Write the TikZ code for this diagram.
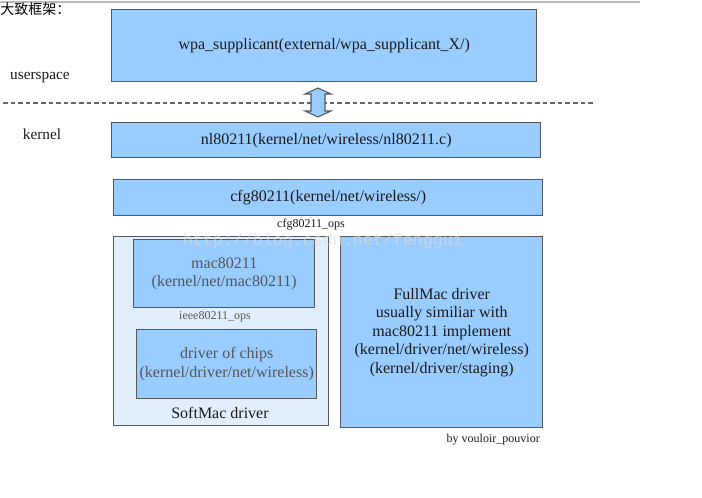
\documentclass[tikz,border=0pt]{standalone}
\usepackage{fontspec}
\setmainfont{Liberation Serif}
\newfontfamily\cjk{Noto Sans CJK SC}
\newfontfamily\wmfont{Liberation Mono}
\begin{document}
\begin{tikzpicture}[x=0.75pt,y=-0.75pt,
  box/.style={draw=boxline, line width=1.1pt, fill=boxblue, inner sep=0pt, anchor=north west, align=center, text=txt, font=\fontsize{12}{14}\selectfont},
  innerbox/.style={box, text=graytxt},
  lbl/.style={inner sep=0pt, text=txt, font=\fontsize{9}{10}\selectfont}]
\definecolor{boxblue}{HTML}{99CCFF}
\definecolor{lightfill}{HTML}{E1EFFD}
\definecolor{boxline}{HTML}{55595E}
\definecolor{txt}{HTML}{1A1A1A}
\definecolor{graytxt}{HTML}{555555}
\useasboundingbox (0,0) rectangle (702,497);
% top rule
\draw[gray!55, line width=0.8pt] (0,2) -- (640,2);
\node[anchor=north west, inner sep=0pt, font=\cjk\fontsize{10.5}{12}\selectfont] (title) at (0,2) {大致框架：};
% boxes
\node[box, minimum width=425*0.75pt, minimum height=72*0.75pt] (wpa) at (111,9) {wpa\_supplicant(external/wpa\_supplicant\_X/)};
\node[anchor=center, inner sep=0pt, text=txt, font=\fontsize{11.5}{13}\selectfont] (us) at (40,78) {userspace};
\draw[dashed, dash pattern=on 3.5pt off 2.2pt, gray!80!black, line width=0.8pt] (3,103) -- (594,103);
\node[anchor=center, inner sep=0pt, text=txt, font=\fontsize{11.5}{13}\selectfont] (kn) at (42,134) {kernel};
\node[box, minimum width=429*0.75pt, minimum height=35*0.75pt] (nl) at (111,122) {nl80211(kernel/net/wireless/nl80211.c)};
% double arrow between wpa and nl
\coordinate (ac) at (318,102);
\draw[boxline, line width=0.8pt, fill=boxblue]
  (318,88) -- (331,94) -- (325,94) -- (325,111) -- (331,111) -- (318,117)
  -- (305,111) -- (311,111) -- (311,94) -- (305,94) -- cycle;
\node[box, minimum width=429*0.75pt, minimum height=36*0.75pt] (cfg) at (113,179) {cfg80211(kernel/net/wireless/)};
\node[lbl] (cfgops) at (311,225) {cfg80211\_ops};
% softmac outer
\node[box, fill=lightfill, minimum width=215*0.75pt, minimum height=189*0.75pt] (soft) at (113,236) {};
\node[innerbox, minimum width=181*0.75pt, minimum height=68*0.75pt] (mac) at (133,239) {mac80211\\(kernel/net/mac80211)};
\node[lbl, text=graytxt] (ieee) at (215,317) {ieee80211\_ops};
\node[innerbox, minimum width=180*0.75pt, minimum height=69*0.75pt, font=\fontsize{12}{14.5}\selectfont] (chips) at (136,329) {driver of chips\\(kernel/driver/net/wireless)};
\node[anchor=center, inner sep=0pt, text=txt, font=\fontsize{12}{14}\selectfont] (softlbl) at (220,413) {SoftMac driver};
\node[box, minimum width=202*0.75pt, minimum height=191*0.75pt, font=\fontsize{12}{13.9}\selectfont] (full) at (340,236) {FullMac driver\\usually similiar with\\mac80211 implement\\(kernel/driver/net/wireless)\\(kernel/driver/staging)};
\node[anchor=east, inner sep=0pt, text=txt, font=\fontsize{9}{10}\selectfont] (by) at (540,440) {by vouloir\_pouvior};
% watermark (on top)
\node[anchor=center, inner sep=0pt, text=white, opacity=0.55, font=\wmfont\fontsize{12.5}{14}\selectfont] (wm) at (323,241) {http://blog.csdn.net/fenggui};
\node[anchor=center, inner sep=0pt, text=gray, opacity=0.18, font=\wmfont\fontsize{12.5}{14}\selectfont] at (wm.center) {http://blog.csdn.net/fenggui};
\end{tikzpicture}
\end{document}
